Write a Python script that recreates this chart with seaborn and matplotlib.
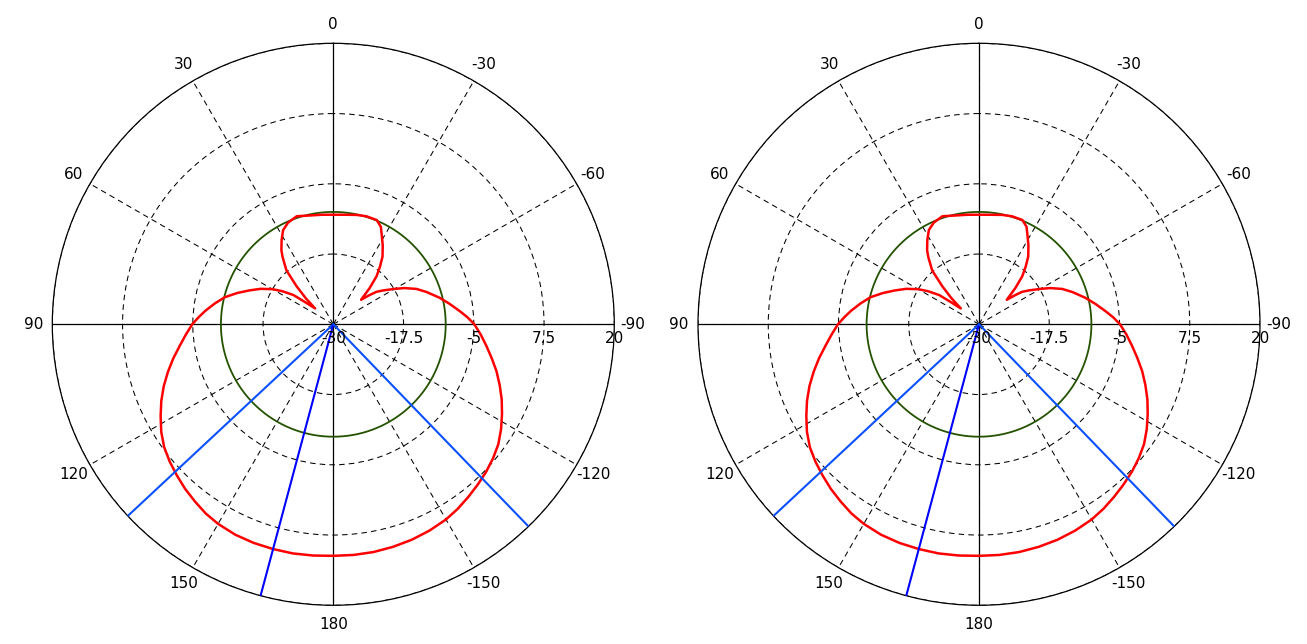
import numpy as np
import pandas as pd
import matplotlib
matplotlib.use("Agg")
import matplotlib.pyplot as plt
import seaborn as sns

# ---------------- data ----------------
angle_ticks = [0, 30, 60, 90, 120, 150, 180, -150, -120, -90, -60, -30]
radial_ticks = [-30, -17.5, -5, 7.5, 20]

pattern_deg = [-180, -175, -170, -165, -160, -155, -150, -146, -142, -138, -134,
               -130, -126, -122, -118, -114, -110, -106, -102, -98, -94,
               -90, -87, -84, -80, -76, -71, -67, -63, -60, -56, -53, -51,
               -48.6, -45, -42, -39, -36, -32, -28, -26, -22.6, -17, -12, -6,
               0, 6, 12, 18.7, 24, 28, 31.5, 35, 37, 41, 44, 46.5, 48.9, 52,
               53.7, 57, 60, 64, 68, 72, 76, 80, 84, 87,
               90, 94, 98, 102, 106, 110, 114, 118, 122, 126, 130, 134,
               138, 142, 146, 150, 155, 160, 165, 170, 175, 180]
pattern_db = [11.2, 11.2, 11.15, 11.0, 10.8, 10.5, 10.1, 9.6, 9.0, 8.4, 7.8,
              7.1, 6.3, 5.2, 4.0, 2.8, 1.5, 0.2, -1.2, -2.5, -3.7,
              -4.9, -6.1, -7.4, -9.0, -10.5, -12.4, -13.9, -15.8, -17.4, -19.2, -20.4, -21.8,
              -23.4, -20.8, -18.5, -16.8, -15.1, -13.4, -11.7, -10.7, -9.9, -9.9, -10.1, -10.4,
              -10.5, -10.4, -10.2, -9.7, -10.2, -11.0, -12.4, -13.9, -15.0, -17.3, -20.6, -23.2, -25.7, -23.4,
              -21.2, -19.2, -17.5, -15.6, -13.9, -12.0, -10.1, -8.6, -7.1, -6.0,
              -4.9, -3.7, -2.4, -0.9, 0.6, 2.1, 3.5, 4.8, 6.1, 7.2, 8.0, 8.7,
              9.4, 10.0, 10.6, 11.0, 11.3, 11.4, 11.4, 11.4, 11.3, 11.2]

reference_db = -10          # green constant-level circle
marker_deg = [133, 165, -136]  # blue radial marker lines

# ---------------- style ----------------
sns.set_theme(style="white")
plt.rcParams["font.family"] = ["DejaVu Sans"]
plt.rcParams["lines.scale_dashes"] = False

R_MIN, R_MAX = -30, 20
W, H = 1307, 644
fig = plt.figure(figsize=(W / 100, H / 100), dpi=100)
fig.patch.set_facecolor("white")

R_PX = 281
centers = [(333.3, 324.3), (979.0, 324.3)]

df = pd.DataFrame({"theta": np.deg2rad(pattern_deg), "db": pattern_db})
circle_theta = np.linspace(0, 2 * np.pi, 721)
df_ref = pd.DataFrame({"theta": circle_theta, "db": np.full(circle_theta.size, reference_db)})

FS = 11

for cx, cy in centers:
    pos = [(cx - R_PX) / W, (H - cy - R_PX) / H, 2 * R_PX / W, 2 * R_PX / H]
    ax = fig.add_axes(pos, projection="polar")
    ax.set_facecolor("white")
    ax.set_theta_zero_location("N")
    ax.set_theta_direction(1)

    # solid main axes
    for a in (0, 90, 180, 270):
        ax.plot([np.deg2rad(a)] * 2, [R_MIN, R_MAX], color="black", lw=0.9, zorder=2)

    # green reference circle
    sns.lineplot(data=df_ref, x="theta", y="db", sort=False, estimator=None,
                 color="#245200", lw=1.3, ax=ax, zorder=3)
    # red pattern
    sns.lineplot(data=df, x="theta", y="db", sort=False, estimator=None,
                 color="#ff0000", lw=1.8, ax=ax, zorder=4)
    # blue markers
    for d in marker_deg:
        col = "#0000ff" if abs(d) > 150 else "#0a50ff"
        ax.plot([np.deg2rad(d)] * 2, [R_MIN, R_MAX], color=col, lw=1.5, zorder=5)

    ax.set_xlabel("")
    ax.set_ylabel("")

    ax.set_xticks(np.deg2rad(np.mod(angle_ticks, 360)))
    ax.set_xticklabels([])
    ax.set_yticks(radial_ticks)
    ax.set_yticklabels([])
    ax.set_thetalim(0, 2 * np.pi)
    ax.set_ylim(R_MIN, R_MAX)
    ax.tick_params(length=0)
    ax.grid(True, color="black", linestyle=(0, (4, 3)), linewidth=0.75)
    ax.spines["polar"].set_color("black")
    ax.spines["polar"].set_linewidth(0.9)

    # angle labels
    for a in angle_ticks:
        ax.text(np.deg2rad(a), R_MAX + 3.35, str(a), ha="center", va="center",
                fontsize=FS, color="black", clip_on=False)
    # radial labels
    for v in radial_ticks:
        ax.annotate(f"{v:g}", xy=(np.deg2rad(-90), v), xytext=(0, -10.5),
                    textcoords="offset points", ha="center", va="center",
                    fontsize=FS, color="black", zorder=6,
                    annotation_clip=False)

fig.savefig("out.png", dpi=100, facecolor="white")
